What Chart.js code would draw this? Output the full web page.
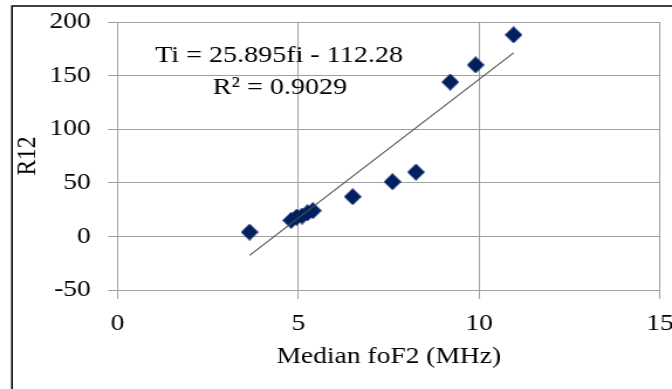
<!DOCTYPE html>
<html><head><meta charset="utf-8">
<script src="https://cdn.jsdelivr.net/npm/chart.js@4"></script>
<style>html,body{margin:0;padding:0;background:#fff;overflow:hidden}
#c{display:block}</style></head>
<body><canvas id="c" width="574" height="389" style="width:672px;height:389px"></canvas>
<script>
// ---- data ----
const foF2 = [3.65, 4.8, 4.95, 5.1, 5.25, 5.4, 6.5, 7.6, 8.25, 9.2, 9.9, 10.95];
const R12  = [4, 15, 18, 19, 22, 24, 37, 51, 60, 144, 160, 188];
const xTicks = [0, 5, 10, 15];
const yTicks = [-50, 0, 50, 100, 150, 200];
const trendSlope = 25.895, trendIntercept = -112.28;
const eqLabel = 'Ti = 25.895fi - 112.28';
const r2Label = 'R\u00B2 = 0.9029';
const xTitle = 'Median foF2 (MHz)';
const yTitle = 'R12';

const FONT = 'Liberation Serif, Times New Roman, serif';
const GRID = '#a0a0a0';
const FS = 23.5;

// diamond marker (canvas is stretched horizontally by CSS, so pre-compress width)
const mk = document.createElement('canvas');
mk.width = 15; mk.height = 17;
(function(){const g = mk.getContext('2d'); g.fillStyle = '#002060'; g.beginPath();
  g.moveTo(0, 8.5); g.lineTo(7.5, 0); g.lineTo(15, 8.5); g.lineTo(7.5, 17); g.closePath(); g.fill();})();

const points = foF2.map((x, i) => ({x, y: R12[i]}));
const xMin = Math.min(...foF2), xMax = Math.max(...foF2);
const trend = [xMin, xMax].map(x => ({x, y: trendSlope * x + trendIntercept}));

const deco = {
  id: 'deco',
  beforeDraw(chart) {
    const ctx = chart.ctx; ctx.save();
    ctx.fillStyle = '#fff'; ctx.fillRect(0, 0, chart.width, chart.height);
    ctx.strokeStyle = '#000'; ctx.lineWidth = 1.5;
    ctx.beginPath(); ctx.moveTo(10.25, chart.height + 2); ctx.lineTo(10.25, 6); ctx.lineTo(chart.width + 2, 6); ctx.stroke();
    ctx.restore();
  },
  afterDraw(chart) {
    const ctx = chart.ctx; ctx.save();
    ctx.fillStyle = '#000'; ctx.textAlign = 'center'; ctx.textBaseline = 'alphabetic';
    ctx.font = '24px ' + FONT;
    ctx.fillText(eqLabel, 238.3, 61.5);
    ctx.fillText(r2Label, 239.2, 94);
    ctx.restore();
  }
};

new Chart(document.getElementById('c'), {
  type: 'scatter',
  data: { datasets: [
    { data: trend, showLine: true, borderColor: '#505050', borderWidth: 1.1, pointRadius: 0, order: 0 },
    { data: points, pointStyle: mk, pointRadius: 8, order: 1, backgroundColor: '#002060', borderColor: '#002060' }
  ]},
  options: {
    responsive: false, animation: false, devicePixelRatio: 1,
    layout: { padding: { left: 0, top: 22, right: 10.2, bottom: 0 } },
    plugins: { legend: { display: false }, tooltip: { enabled: false } },
    scales: {
      x: {
        type: 'linear', min: 0, max: 15,
        afterBuildTicks: s => { s.ticks = xTicks.map(v => ({value: v})); },
        afterFit: s => { s.height = 99; s.paddingLeft = 0; s.paddingRight = 0; },
        grid: { color: GRID, lineWidth: 1, tickLength: 9, drawTicks: true },
        border: { display: true, color: GRID, width: 1 },
        ticks: { color: '#000', font: { family: FONT, size: FS }, padding: 10.9, maxRotation: 0 },
        title: { display: true, text: xTitle, color: '#000', font: { family: FONT, size: FS }, padding: { top: 0, bottom: 17.9 } }
      },
      y: {
        type: 'linear', min: -50, max: 200,
        afterBuildTicks: s => { s.ticks = yTicks.map(v => ({value: v})); },
        afterFit: s => { s.width = 100.4; s.paddingTop = 0; s.paddingBottom = 0; },
        grid: { color: GRID, lineWidth: 1, tickLength: 8.1, drawTicks: true },
        border: { display: true, color: GRID, width: 1 },
        ticks: { color: '#000', font: { family: FONT, size: FS }, padding: 14.75 },
        title: { display: true, text: yTitle, color: '#000', font: { family: FONT, size: FS }, padding: { top: 9.4, bottom: 0 } }
      }
    }
  },
  plugins: [deco]
});
</script></body></html>
